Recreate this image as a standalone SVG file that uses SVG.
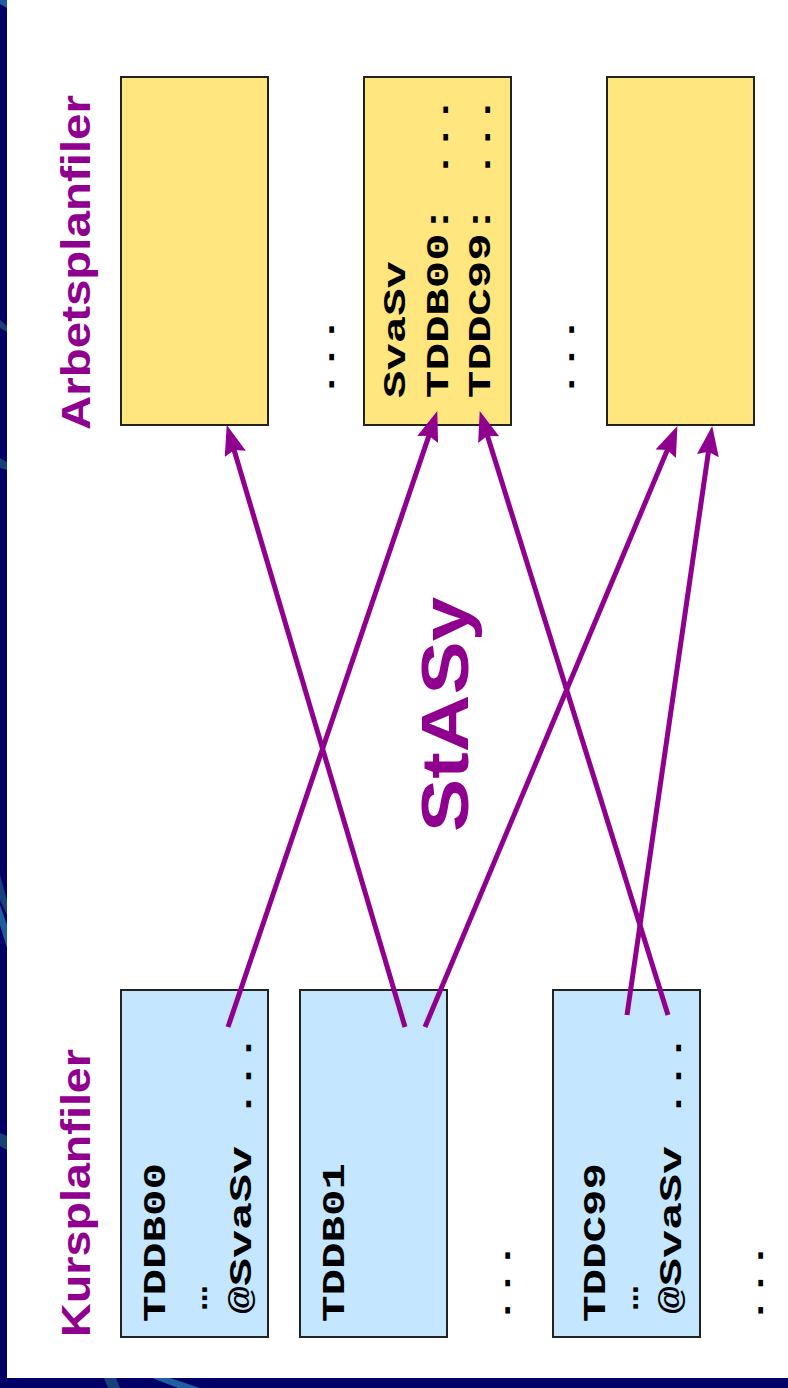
<svg xmlns="http://www.w3.org/2000/svg" width="788" height="1388" viewBox="0 0 788 1388">
<style>
.bg{fill:#ffffff}
.frame{fill:#000066}
.sw1{fill:#1f5f9f}
.sw2{fill:#18407a}
.ybox{fill:#ffe67f;stroke:#222;stroke-width:2}
.bbox{fill:#c4e6ff;stroke:#222;stroke-width:2}
.lbl{font-family:"Liberation Sans",Arial,sans-serif;font-weight:bold;fill:#8f008f}
.mono{font-family:"Liberation Mono","Courier New",monospace;font-weight:bold;font-size:32px;fill:#000}
.conn{stroke:#8f008f;stroke-width:5;fill:none;marker-end:url(#ah)}
</style>
<defs>
<marker id="ah" markerUnits="userSpaceOnUse" markerWidth="32" markerHeight="24" refX="21" refY="11" orient="auto" viewBox="0 0 32 24">
<path d="M0,0 L30,11 L0,22 L4,11 z" fill="#8f008f"/>
</marker>
</defs>
<rect class="bg" x="0" y="0" width="788" height="1388"/>
<g id="frame">
<rect class="frame" x="0" y="0" width="7" height="1388"/>
<rect class="frame" x="0" y="1378" width="788" height="10"/>
<polygon class="sw1" points="0,0 7,0 7,8 0,4"/>
<polygon class="sw2" points="0,320 7,326 7,332 0,328"/>
<polygon class="sw2" points="0,458 7,462 7,470 0,468"/>
<polygon class="sw2" points="0,875 7,900 7,915 0,900"/>
<polygon class="sw1" points="0,905 7,925 7,948 0,925"/>
<polygon class="sw2" points="0,1133 7,1136 7,1150 0,1146"/>
<polygon class="sw2" points="104,1378 116,1378 120,1388 108,1388"/>
<polygon class="sw1" points="152,1378 170,1378 200,1388 178,1388"/>
</g>
<g id="label-arbetsplanfiler">
<text class="lbl" font-size="40" textLength="335" lengthAdjust="spacingAndGlyphs" transform="translate(90,430) rotate(-90)">Arbetsplanfiler</text>
</g>
<g id="label-kursplanfiler">
<text class="lbl" font-size="40" textLength="288" lengthAdjust="spacingAndGlyphs" transform="translate(90,1337) rotate(-90)">Kursplanfiler</text>
</g>
<g id="label-stasy">
<text class="lbl" font-size="66" textLength="235" lengthAdjust="spacingAndGlyphs" transform="translate(468,832) rotate(-90)">StASy</text>
</g>
<g id="work-1">
<rect class="ybox" x="121" y="77" width="147" height="348"/>
</g>
<g id="work-2">
<rect class="ybox" x="364" y="77" width="147" height="348"/>
<text class="mono" textLength="137" lengthAdjust="spacingAndGlyphs" transform="translate(405,398) rotate(-90)">SvaSv</text>
<text class="mono" textLength="302" lengthAdjust="spacingAndGlyphs" transform="translate(448,398) rotate(-90)">TDDB00: ...</text>
<text class="mono" textLength="302" lengthAdjust="spacingAndGlyphs" transform="translate(490,398) rotate(-90)">TDDC99: ...</text>
</g>
<g id="work-3">
<rect class="ybox" x="607" y="77" width="147" height="348"/>
</g>
<g id="work-dots">
<text class="mono" textLength="82" lengthAdjust="spacingAndGlyphs" transform="translate(334,398) rotate(-90)">...</text>
<text class="mono" textLength="82" lengthAdjust="spacingAndGlyphs" transform="translate(574,398) rotate(-90)">...</text>
</g>
<g id="course-tddb00">
<rect class="bbox" x="121" y="990" width="147" height="347"/>
<text class="mono" textLength="159" lengthAdjust="spacingAndGlyphs" transform="translate(165,1322) rotate(-90)">TDDB00</text>
<text class="mono" textLength="36" lengthAdjust="spacing" transform="translate(207,1316) rotate(-90)">...</text>
<text class="mono" textLength="280" lengthAdjust="spacingAndGlyphs" transform="translate(251,1314) rotate(-90)">@SvaSv ...</text>
</g>
<g id="course-tddb01">
<rect class="bbox" x="300" y="990" width="147" height="347"/>
<text class="mono" textLength="159" lengthAdjust="spacingAndGlyphs" transform="translate(344,1322) rotate(-90)">TDDB01</text>
</g>
<g id="course-tddc99">
<rect class="bbox" x="553" y="990" width="147" height="347"/>
<text class="mono" textLength="159" lengthAdjust="spacingAndGlyphs" transform="translate(605,1322) rotate(-90)">TDDC99</text>
<text class="mono" textLength="36" lengthAdjust="spacing" transform="translate(638,1316) rotate(-90)">...</text>
<text class="mono" textLength="280" lengthAdjust="spacingAndGlyphs" transform="translate(681,1314) rotate(-90)">@SvaSv ...</text>
</g>
<g id="course-dots">
<text class="mono" textLength="82" lengthAdjust="spacingAndGlyphs" transform="translate(510,1324) rotate(-90)">...</text>
<text class="mono" textLength="82" lengthAdjust="spacingAndGlyphs" transform="translate(763,1324) rotate(-90)">...</text>
</g>
<g id="connectors">
<line class="conn" x1="228" y1="1027" x2="434.4" y2="419.6"/>
<line class="conn" x1="405" y1="1027" x2="229.3" y2="433.7"/>
<line class="conn" x1="425" y1="1027" x2="673.9" y2="434.4"/>
<line class="conn" x1="627" y1="1015" x2="710.9" y2="434.9"/>
<line class="conn" x1="668" y1="1015" x2="482.4" y2="419.6"/>
</g>
</svg>
